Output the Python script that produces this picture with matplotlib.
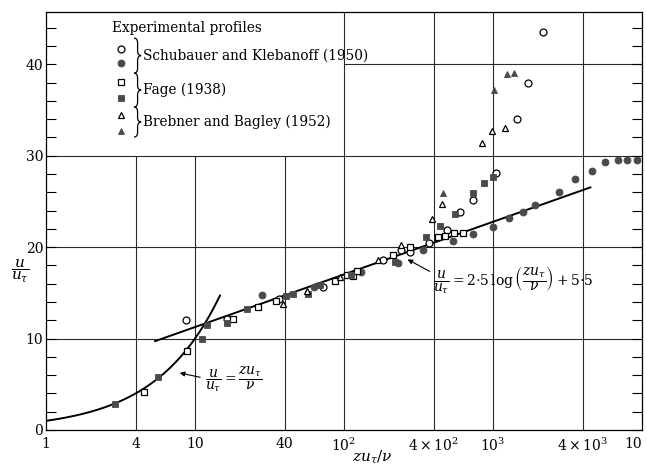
"""Velocity profile u/u_tau against z u_tau/nu, wall-law comparison."""
import numpy as np
import matplotlib.pyplot as plt
from matplotlib.lines import Line2D
from matplotlib.path import Path
from matplotlib.patches import PathPatch

plt.rcParams["font.family"] = ["DejaVu Serif"]
plt.rcParams["mathtext.fontset"] = "dejavuserif"

# Schubauer and Klebanoff (1950)
sk_open_x = [8.7, 16.3, 36.7, 72, 183, 241, 277, 372, 489, 600, 738, 1043, 1456, 1726, 2155]
sk_open_y = [12.0, 12.1, 14.3, 15.6, 18.6, 19.7, 19.5, 20.5, 21.9, 23.8, 25.1, 28.1, 34.0, 38.0, 43.5]
sk_filled_x = [28, 63, 130, 232, 337, 540, 738, 1004, 1286, 1590, 1914, 2770, 3549, 4620,
               5650, 6870, 7960, 9210]
sk_filled_y = [14.8, 15.6, 17.3, 18.3, 19.7, 20.7, 21.4, 22.2, 23.2, 23.8, 24.6, 26.0, 27.4, 28.3,
               29.3, 29.5, 29.5, 29.5]

# Fage (1938)
fage_open_x = [4.53, 8.8, 17.9, 26.6, 35, 87, 104, 115, 123, 214, 277, 427, 475, 547, 626]
fage_open_y = [4.2, 8.6, 12.1, 13.5, 14.1, 16.3, 17.0, 16.8, 17.4, 19.1, 20.0, 21.1, 21.2, 21.5, 21.5]
fage_filled_x = [2.89, 5.67, 11.2, 12.1, 16.3, 22.2, 40.8, 45.3, 57.6, 69, 112, 219, 355, 441,
                 556, 738, 875, 995]
fage_filled_y = [2.8, 5.8, 10.0, 11.5, 11.7, 13.2, 14.6, 14.9, 14.9, 15.9, 16.9, 18.4, 21.1, 22.3,
                 23.6, 25.9, 27.0, 27.7]

# Brebner and Bagley (1952)
bb_open_x = [39.1, 56.2, 94, 169, 241, 388, 455, 840, 985, 1198]
bb_open_y = [13.8, 15.2, 16.7, 18.6, 20.2, 23.1, 24.7, 31.4, 32.7, 33.0]
bb_filled_x = [464, 1016, 1236, 1383]
bb_filled_y = [25.9, 37.2, 38.9, 39.0]

# wall-law curves as printed on the chart
viscous_range = (1.0, 14.7)
log_range = (5.4, 4500.0)
log_slope = 2.5
log_const = 5.5

x_ticks = [1, 4, 10, 40, 100, 400, 1000, 4000, 10000]
x_tick_labels = ["1", "4", "10", "40", r"$10^2$", r"$4\times10^2$", r"$10^3$", r"$4\times10^3$", "10"]

INK = "black"
FILL = "#4a4a4a"

fig = plt.figure(figsize=(6.47, 4.66), dpi=100)
ax = fig.add_axes([0.0711, 0.0773, 0.9212, 0.8967])
ax.set_xscale("log")
ax.set_xlim(1, 10000)
ax.set_ylim(0, 45.7)


def brace(ax, x0, y_top, y_bot, w=0.012, r=0.012):
    """Right-pointing curly brace in axes fractions."""
    xm = x0 + w / 2
    ym = (y_top + y_bot) / 2
    verts = [(x0, y_top), (xm, y_top), (xm, y_top - r),
             (xm, ym + r),
             (xm, ym), (x0 + w, ym),
             (xm, ym), (xm, ym - r),
             (xm, y_bot + r),
             (xm, y_bot), (x0, y_bot)]
    codes = [Path.MOVETO, Path.CURVE3, Path.CURVE3, Path.LINETO,
             Path.CURVE3, Path.CURVE3, Path.CURVE3, Path.CURVE3,
             Path.LINETO, Path.CURVE3, Path.CURVE3]
    ax.add_patch(PathPatch(Path(verts, codes), fc="none", ec=INK, lw=0.9,
                           transform=ax.transAxes, clip_on=False))


# grid: the legend corner (x < 100, y > 30) is left blank
grid_kw = dict(color="#2a2a2a", lw=0.8, zorder=1)
ax.vlines([4, 10, 40], 0, 30, **grid_kw)
ax.vlines([100, 400, 1000, 4000], 0, 45.7, **grid_kw)
ax.hlines([10, 20, 30], 1, 10000, **grid_kw)
ax.hlines([40], 100, 10000, **grid_kw)

# theory curves
zv = np.geomspace(*viscous_range, 200)
ax.plot(zv, zv, color=INK, lw=1.4, zorder=3)
zl = np.geomspace(*log_range, 200)
ax.plot(zl, log_slope * np.log(zl) + log_const, color=INK, lw=1.4, zorder=3)

open_kw = dict(ls="none", mfc="white", mec=INK, mew=0.9, ms=5)
fill_kw = dict(ls="none", mfc=FILL, mec=FILL, mew=0.6, ms=5)
ax.plot(sk_open_x, sk_open_y, marker="o", zorder=4, **open_kw)
ax.plot(sk_filled_x, sk_filled_y, marker="o", zorder=4, **fill_kw)
ax.plot(fage_open_x, fage_open_y, marker="s", zorder=4, **open_kw)
ax.plot(fage_filled_x, fage_filled_y, marker="s", zorder=4, **fill_kw)
ax.plot(bb_open_x, bb_open_y, marker="^", zorder=4, **open_kw)
ax.plot(bb_filled_x, bb_filled_y, marker="^", zorder=4, **fill_kw)

# hand-drawn style legend with braces
ax.text(2.77, 44.0, "Experimental profiles", fontsize=9.8, va="center", ha="left")
key_y = [41.7, 40.1, 38.1, 36.3, 34.5, 32.7]
key_styles = [("o", open_kw), ("o", fill_kw), ("s", open_kw),
              ("s", fill_kw), ("^", open_kw), ("^", fill_kw)]
for ky, (m, kw) in zip(key_y, key_styles):
    ax.add_line(Line2D([3.19], [ky], marker=m, **kw))
brace_edges = [(392, 357), (357, 323), (323, 293)]  # pixel rows from the bottom
for (top, bot), label in zip(brace_edges,
                             ["Schubauer and Klebanoff (1950)", "Fage (1938)",
                              "Brebner and Bagley (1952)"]):
    brace(ax, (134 - 46) / 596, top / 418, bot / 418)
    ax.text(4.5, ((top + bot) / 2) / 418 * 45.7, label, fontsize=9.8, va="center", ha="left")

# equation labels
ax.annotate("", xy=(7.57, 6.3), xytext=(11.3, 5.7),
            arrowprops=dict(arrowstyle="-|>", color=INK, lw=0.8, mutation_scale=7))
ax.text(11.6, 5.5, r"$\dfrac{u}{u_\tau}=\dfrac{zu_\tau}{\nu}$", fontsize=10, va="center", ha="left")
ax.annotate("", xy=(257, 18.8), xytext=(390, 17.2),
            arrowprops=dict(arrowstyle="-|>", color=INK, lw=0.8, mutation_scale=7))
ax.text(397, 16.3,
        r"$\dfrac{u}{u_\tau}=2{\cdot}5\,\log\left(\dfrac{zu_\tau}{\nu}\right)+5{\cdot}5$",
        fontsize=10, va="center", ha="left")

# axes, ticks and labels
ax.set_xticks(x_ticks)
ax.set_xticklabels(x_tick_labels, fontsize=10)
ax.get_xticklabels()[-1].set_horizontalalignment("right")
ax.xaxis.set_minor_locator(plt.NullLocator())
ax.tick_params(axis="x", length=0, pad=5)
ax.set_yticks([0, 10, 20, 30, 40])
ax.set_yticks(np.arange(0, 46, 2), minor=True)
ax.tick_params(axis="y", which="both", direction="in", length=7, width=0.8,
               left=True, right=True, labelsize=10, pad=2)
for s in ax.spines.values():
    s.set_linewidth(0.9)

fig.text(0.575, 0.018, r"$zu_\tau/\nu$", fontsize=11, ha="center", va="center")
fig.text(0.031, 0.42, r"$\dfrac{u}{u_\tau}$", fontsize=11, ha="center", va="center")

fig.savefig("out.png", dpi=100)
